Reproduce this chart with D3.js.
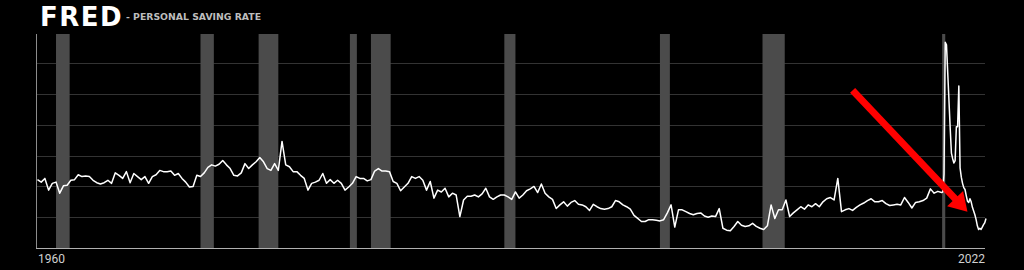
<!DOCTYPE html>
<html>
<head>
<meta charset="utf-8">
<script src="https://cdn.jsdelivr.net/npm/d3@7"></script>
<style>
  html, body { margin: 0; padding: 0; background: #000; }
  svg { display: block; }
</style>
</head>
<body>
<div id="chart-area"><svg></svg></div>
<script>
const chartSize = { width: 1024, height: 270 };
const margin = { left: 36, right: 39, top: 34, bottom: 22 };

const width = chartSize.width - margin.left - margin.right;
const height = chartSize.height - margin.top - margin.bottom;

// personal saving rate (%), quarterly 1959 Q1 .. 2019 Q4
const quarterlyRate = [
  11.1, 10.7, 11.3, 9.4,   10.5, 10.7, 8.9, 10.1,   10.2, 11.0, 11.1, 11.9,
  11.6, 11.7, 11.6, 11.0,  10.6, 10.4, 10.6, 11.0,  10.5, 12.2, 11.8, 11.3,
  12.4, 10.6, 12.1, 11.6,  11.1, 11.6, 10.5, 11.6,  11.9, 12.6, 12.4, 12.4,
  12.5, 11.8, 12.1, 11.3,  10.7, 9.9, 10.0, 11.8,   11.6, 12.2, 13.1, 13.5,
  13.3, 13.6, 14.2, 13.5,  12.9, 11.8, 11.7, 12.2,  13.7, 12.9, 13.5, 14.0,
  14.7, 14.0, 12.9, 12.6,  13.7, 12.6, 17.3, 13.5,  13.2, 12.4, 12.4, 11.8,
  11.3, 9.4, 10.5, 10.7,   11.0, 12.1, 10.5, 11.1,  10.5, 11.0, 10.5, 9.4,
  9.9, 10.5, 11.6, 11.3,   11.3, 10.9, 11.1, 12.5,  12.9, 12.5, 12.5, 12.4,
  10.8, 10.5, 9.3, 9.9,    10.5, 11.6, 11.3, 11.6,  11.0, 9.4, 10.8, 8.1,
  9.4, 9.1, 9.7, 8.3,      8.9, 8.6, 5.1, 7.8,      8.4, 8.4, 8.6, 8.3,
  8.8, 9.7, 8.3, 7.9,      8.3, 8.6, 8.6, 8.3,      7.9, 9.1, 8.1, 8.6,
  9.3, 9.6, 10.0, 9.0,     10.4, 8.9, 8.3, 7.9,     6.4, 7.0, 7.5, 6.8,
  7.4, 7.7, 7.1, 7.0,      6.7, 6.1, 7.1, 6.7,      6.4, 6.3, 6.4, 6.7,
  7.7, 7.5, 7.0, 6.7,      6.3, 5.3, 4.8, 4.3,      4.3, 4.6, 4.6, 4.5,
  4.4, 4.6, 5.7, 7.0,      3.4, 6.2, 6.2, 5.9,      5.6, 5.4, 5.6, 5.7,
  5.2, 5.0, 5.2, 5.1,      6.4, 3.2, 2.9, 2.8,      3.5, 4.3, 3.7, 3.5,
  3.6, 4.0, 3.5, 3.2,      3.0, 3.6, 7.0, 4.8,      6.2, 6.2, 7.8, 5.1,
  5.7, 6.2, 6.7, 6.3,      7.0, 6.7, 7.2, 6.7,      7.5, 8.0, 8.2, 7.8,
  11.3, 5.9, 6.2, 6.4,     6.1, 6.6, 7.0, 7.3,      7.7, 8.0, 7.5, 7.5,
  7.7, 7.2, 6.9, 7.0,      7.1, 7.0, 8.2, 7.4,      6.5, 7.4, 7.5, 7.7,
  8.1, 9.6, 8.9, 9.2
];

// monthly Jan 2020 .. Jan 2023
const monthlyRate = [
  9.0, 9.1, 12.0, 33.4, 33.0, 28.5, 24.0, 19.5, 15.4, 14.5, 13.8, 14.2,
  19.7, 19.7, 26.3, 13.0, 11.5, 10.5, 9.8, 9.5, 8.5, 7.6, 7.4, 8.0,
  7.5, 6.6, 6.0, 5.4, 4.6, 3.6, 3.0, 3.2, 3.0, 3.4, 3.8, 4.1,
  4.8
];

// recession periods (decimal years)
const recessionStart = [1960.25, 1970.0, 1973.92, 1980.08, 1981.5, 1990.5, 2001.0, 2007.92, 2020.04];
const recessionEnd = [1961.17, 1970.9, 1975.25, 1980.55, 1982.83, 1991.25, 2001.67, 2009.42, 2020.25];

const gridValues = [5, 10, 15, 20, 25, 30];
const tickLabels = ["1960", "2022"];

// arrow annotation: [year, rate]
const arrowFrom = [2014.0, 25.6];
const arrowTo = [2021.75, 5.9];

const buildSeries = () => {
  const q = quarterlyRate.map((v, i) => ({ t: 1959 + i / 4, v }));
  const m = monthlyRate.map((v, i) => ({ t: 2020 + i / 12, v }));
  return q.concat(m);
};

const main = () => {
  const svg = d3
    .select("#chart-area svg")
    .attr("width", chartSize.width)
    .attr("height", chartSize.height);

  svg
    .append("rect")
    .attr("width", chartSize.width)
    .attr("height", chartSize.height)
    .attr("fill", "#000");

  const title = svg.append("g").attr("class", "title");
  title
    .append("text")
    .attr("x", 40)
    .attr("y", 26)
    .attr("font-family", "DejaVu Sans")
    .attr("font-weight", "bold")
    .attr("font-size", 26)
    .attr("letter-spacing", 1.5)
    .attr("fill", "#fff")
    .text("FRED");
  title
    .append("text")
    .attr("x", 126)
    .attr("y", 20)
    .attr("font-family", "DejaVu Sans")
    .attr("font-weight", "bold")
    .attr("font-size", 9.3)
    .attr("fill", "#bdbdbd")
    .text("- PERSONAL SAVING RATE");

  const chart = svg
    .append("g")
    .attr("class", "chart")
    .attr("transform", `translate(${margin.left}, ${margin.top})`);

  const x = d3.scaleLinear().domain([1958.9, 2023.0]).range([0, 950]);
  const y = d3.scaleLinear().domain([0, 34.75]).range([height, 0]);

  chart
    .selectAll(".grid")
    .data(gridValues)
    .enter()
    .append("line")
    .attr("class", "grid")
    .attr("x1", 0)
    .attr("x2", width)
    .attr("y1", d => Math.round(y(d)) + 0.5)
    .attr("y2", d => Math.round(y(d)) + 0.5)
    .attr("stroke", "#333")
    .attr("stroke-width", 1);

  chart
    .selectAll(".recession")
    .data(recessionStart.map((s, i) => [s, recessionEnd[i]]))
    .enter()
    .append("rect")
    .attr("class", "recession")
    .attr("x", d => x(d[0]))
    .attr("width", d => x(d[1]) - x(d[0]))
    .attr("y", 0)
    .attr("height", height)
    .attr("fill", "#4b4b4b");

  chart
    .append("line")
    .attr("x1", 0.5)
    .attr("x2", 0.5)
    .attr("y1", 0)
    .attr("y2", height)
    .attr("stroke", "#8c8c8c");

  chart
    .append("line")
    .attr("x1", 0)
    .attr("x2", width)
    .attr("y1", height + 0.5)
    .attr("y2", height + 0.5)
    .attr("stroke", "#b0b0b0");

  const line = d3
    .line()
    .x(d => x(d.t))
    .y(d => y(d.v));

  chart
    .append("path")
    .attr("class", "rate")
    .attr("d", line(buildSeries()))
    .attr("fill", "none")
    .attr("stroke", "#fff")
    .attr("stroke-width", 1.5)
    .attr("stroke-linejoin", "round");

  chart
    .selectAll(".tick-label")
    .data(tickLabels)
    .enter()
    .append("text")
    .attr("class", "tick-label")
    .attr("x", (d, i) => (i === 0 ? 2 : width))
    .attr("y", height + 15)
    .attr("text-anchor", (d, i) => (i === 0 ? "start" : "end"))
    .attr("font-family", "Roboto")
    .attr("font-size", 12)
    .attr("fill", "#d0d0d0")
    .text(d => d);

  // red arrow
  const x0 = x(arrowFrom[0]), y0 = y(arrowFrom[1]);
  const x1 = x(arrowTo[0]), y1 = y(arrowTo[1]);
  const len = Math.hypot(x1 - x0, y1 - y0);
  const ux = (x1 - x0) / len, uy = (y1 - y0) / len;
  const headLen = 18, headHalf = 11;
  const bx = x1 - ux * headLen, by = y1 - uy * headLen;

  chart
    .append("line")
    .attr("x1", x0)
    .attr("y1", y0)
    .attr("x2", bx + ux * 2)
    .attr("y2", by + uy * 2)
    .attr("stroke", "#f00")
    .attr("stroke-width", 7);

  chart
    .append("path")
    .attr(
      "d",
      `M${x1},${y1}L${bx - uy * headHalf},${by + ux * headHalf}L${bx + uy * headHalf},${by - ux * headHalf}Z`
    )
    .attr("fill", "#f00");
};

window.onload = main;
</script>
</body>
</html>
